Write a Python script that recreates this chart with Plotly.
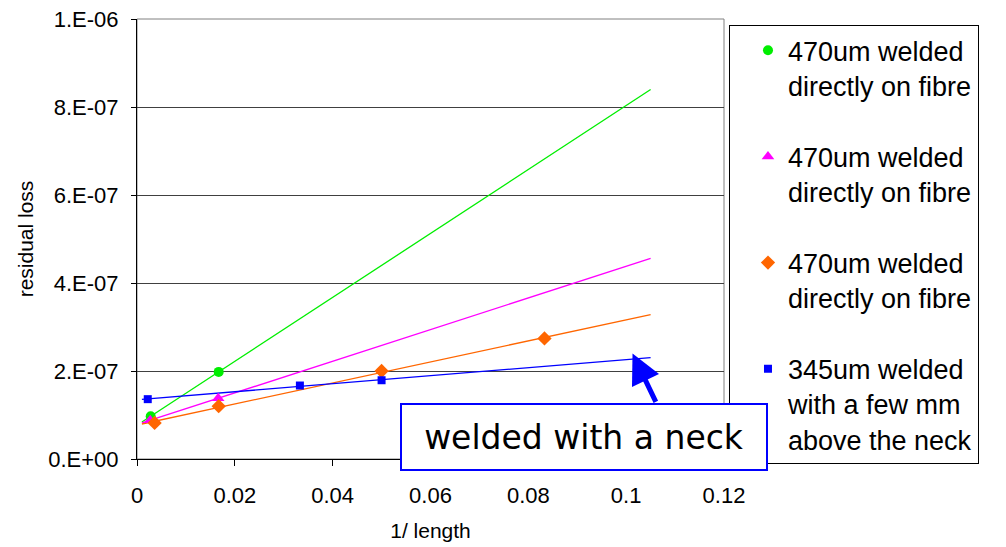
import numpy as np
import plotly.graph_objects as go

# ---- data ----
green_x = [0.0028, 0.0167]
green_y = [9.7e-8, 1.98e-7]
magenta_x = [0.0027, 0.0166]
magenta_y = [8.8e-8, 1.38e-7]
orange_x = [0.0036, 0.0167, 0.05, 0.0833]
orange_y = [8.2e-8, 1.2e-7, 2.0e-7, 2.74e-7]
blue_x = [0.0022, 0.0333, 0.05]
blue_y = [1.36e-7, 1.67e-7, 1.79e-7]

series_names = [
    "470um welded<br>directly on fibre",
    "470um welded<br>directly on fibre",
    "470um welded<br>directly on fibre",
    "345um welded<br>with a few mm<br>above the neck",
]
trend_range = [0.001, 0.105]

x_tickvals = [0, 0.02, 0.04, 0.06, 0.08, 0.1, 0.12]
x_ticktext = ["0", "0.02", "0.04", "0.06", "0.08", "0.1", "0.12"]
y_tickvals = [0, 2e-7, 4e-7, 6e-7, 8e-7, 1e-6]
y_ticktext = ["0.E+00", "2.E-07", "4.E-07", "6.E-07", "8.E-07", "1.E-06"]

series = [
    (green_x, green_y, "#00EE00", "circle", 10),
    (magenta_x, magenta_y, "#FF00FF", "triangle-up", 11),
    (orange_x, orange_y, "#FF6600", "diamond", 11),
    (blue_x, blue_y, "#0000FF", "square", 8),
]

FONT = "Liberation Sans, Arial, sans-serif"
fig = go.Figure()

# trendlines (linear fits)
for (xs, ys, col, sym, sz) in series:
    k, b = np.polyfit(xs, ys, 1)
    tx = np.array(trend_range)
    fig.add_trace(go.Scatter(x=tx, y=k * tx + b, mode="lines",
                             line=dict(color=col, width=1.3),
                             showlegend=False, hoverinfo="skip"))

for i, ((xs, ys, col, sym, sz), name) in enumerate(zip(series, series_names)):
    fig.add_trace(go.Scatter(x=xs, y=ys, mode="markers", name=name,
                             legendgroup=f"g{i}",
                             marker=dict(color=col, symbol=sym, size=sz,
                                         line=dict(width=0))))

# page body has an 8px margin: figure is 998x539 so it fills the 1006x547 window
fig.update_layout(
    width=998, height=539,
    margin=dict(l=129, r=282, t=11, b=88, autoexpand=False),
    paper_bgcolor="white", plot_bgcolor="white",
    font=dict(family=FONT, color="black"),
    showlegend=True,
    legend=dict(
        x=1.0085, xanchor="left", y=0.986, yanchor="top",
        bgcolor="white", bordercolor="black", borderwidth=1,
        font=dict(family=FONT, size=27, color="black"),
        valign="top", tracegroupgap=33, indentation=18,
        entrywidth=215, entrywidthmode="pixels",
        maxheight=600,
    ),
    xaxis=dict(
        range=[0, 0.12], tickvals=x_tickvals, ticktext=x_ticktext,
        showgrid=False, zeroline=False, automargin=False,
        showline=True, linecolor="black", linewidth=1,
        ticks="outside", ticklen=6, tickcolor="black",
        ticklabelstandoff=11, ticklabeloverflow="allow",
        tickfont=dict(family=FONT, size=22),
        title=dict(text="1/ length", font=dict(family=FONT, size=21), standoff=15),
    ),
    yaxis=dict(
        range=[0, 1e-6], tickvals=y_tickvals, ticktext=y_ticktext,
        showgrid=True, gridcolor="#404040", gridwidth=1,
        zeroline=False, automargin=False,
        showline=True, linecolor="black", linewidth=1,
        ticks="outside", ticklen=5, tickcolor="black",
        ticklabelstandoff=8, ticklabeloverflow="allow",
        tickfont=dict(family=FONT, size=22),
        title=dict(text="residual loss", font=dict(family=FONT, size=21), standoff=8),
    ),
)

# plot-area border (grey top / right)
fig.add_shape(type="rect", xref="paper", yref="paper", x0=0, y0=0, x1=1, y1=1,
              line=dict(color="#808080", width=1), layer="below")

# arrow pointing to the blue trendline
fig.add_annotation(x=0.1013, y=2.4e-7, xref="x", yref="y", text="",
                   showarrow=True, arrowhead=2, arrowsize=1.2, arrowwidth=5,
                   arrowcolor="#0000FF", ax=24, ay=50, standoff=0)

# boxed label
fig.add_annotation(x=0.761, y=0.051, xref="paper", yref="paper",
                   xanchor="center", yanchor="middle",
                   text="welded with a neck", showarrow=False,
                   font=dict(family="DejaVu Sans, sans-serif", size=33, color="black"),
                   bgcolor="white", bordercolor="#0000FF", borderwidth=2,
                   width=362, height=62, align="center")

fig.write_html("out.html")
